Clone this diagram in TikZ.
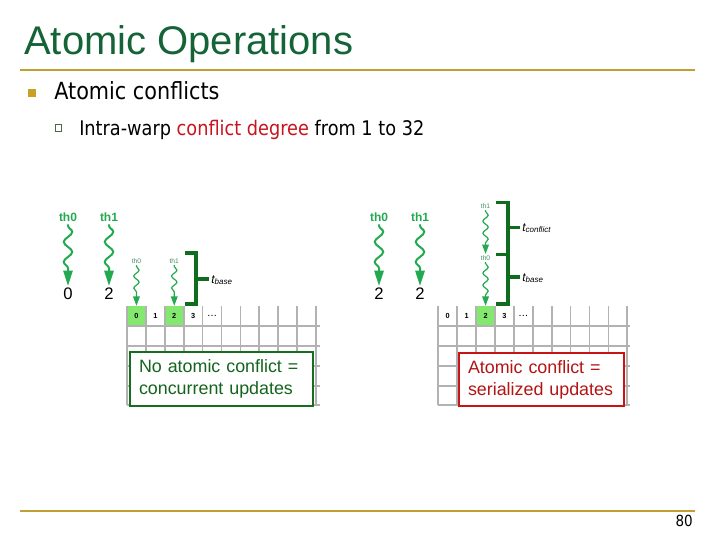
\documentclass[tikz,border=0pt]{standalone}
\usepackage{fontspec}
\setmainfont{Liberation Sans}
\newfontfamily\tahoma[FakeStretch=0.88]{DejaVu Sans}
\usetikzlibrary{arrows.meta,decorations.pathmorphing}
\definecolor{titlegreen}{RGB}{20,100,55}
\definecolor{gold}{RGB}{192,160,52}
\definecolor{bulletgold}{RGB}{200,160,40}
\definecolor{subgray}{RGB}{80,100,70}
\definecolor{thgreen}{RGB}{35,170,80}
\definecolor{smallthc}{RGB}{70,140,100}
\definecolor{brgreen}{RGB}{15,110,30}
\definecolor{boxgreen}{RGB}{20,110,30}
\definecolor{txtgreen}{RGB}{20,100,30}
\definecolor{confred}{RGB}{200,20,30}
\definecolor{boxred}{RGB}{200,20,20}
\definecolor{txtred}{RGB}{180,20,20}
\definecolor{cellgreen}{RGB}{130,232,110}
\definecolor{gridgray}{RGB}{178,178,178}
\tikzset{
  bigwave/.style={draw=thgreen, line width=1.5pt, decorate,
    decoration={snake, amplitude=3.2pt, segment length=15pt, pre length=1pt, post length=12pt},
    -{Triangle[width=7pt,length=11.5pt]}},
  smallwave/.style={draw=thgreen, line width=0.9pt, decorate,
    decoration={snake, amplitude=2pt, segment length=9pt, pre length=1pt, post length=7pt},
    -{Triangle[width=5pt,length=7pt]}},
  bigth/.style={text=thgreen, font=\fontsize{9}{10}\selectfont\bfseries, inner sep=2pt},
  smallth/.style={text=smallthc, font=\fontsize{5}{6}\selectfont, inner sep=1pt},
  num/.style={font=\fontsize{12.5}{14}\selectfont, inner sep=1.5pt},
  cell/.style={minimum width=14.175pt, minimum height=14.925pt, inner sep=0pt, font=\fontsize{5.5}{6}\selectfont\bfseries},
  greencell/.style={cell, fill=cellgreen},
  gridline/.style={draw=gridgray, line width=1.3pt},
  bracket/.style={draw=brgreen, line width=2.5pt},
  lbl/.style={font=\fontsize{9}{10}\selectfont\itshape, inner sep=0pt, anchor=base west},
  msgbox/.style={line width=2.2pt, fill=white, align=left, inner xsep=6.75pt, inner ysep=0pt,
    font=\fontsize{13.4}{16.5}\selectfont},
}
\begin{document}
\begin{tikzpicture}[x=0.75pt,y=-0.75pt]
\useasboundingbox (0,0) rectangle (720,540);
% header
\node[anchor=base west, inner sep=0, text=titlegreen, font=\fontsize{30}{36}\selectfont] (title) at (24,54) {Atomic Operations};
\draw[gold, line width=2.2pt] (20,70) -- (695,70);
\node[fill=bulletgold, minimum size=6pt, inner sep=0] (b1) at (32,93.3) {};
\node[anchor=base west, inner sep=0, font=\tahoma\fontsize{17.7}{20}\selectfont] (t1) at (54,99) {Atomic conflicts};
\node[draw=subgray, line width=0.6pt, minimum size=4.8pt, inner sep=0] (b2) at (58.3,128) {};
\node[anchor=base west, inner sep=0, font=\tahoma\fontsize{15.1}{18}\selectfont] (t2) at (79,135) {Intra-warp \textcolor{confred}{conflict degree} from 1 to 32};
% ---------- left grid ----------
\foreach \k/\t/\s in {0/0/greencell,1/1/cell,2/2/greencell,3/3/cell}
  \node[\s] (lc\k) at ({127+18.9*(\k+0.5)},316) {\t};
\node[cell] (lc4) at ({127+18.9*4.5},316) {.\,.\,.};
\foreach \k in {0,1,2,3,4,5,6,7,8,9,10} \draw[gridline] ({127+18.9*\k},306) -- ({127+18.9*\k},405);
\foreach \y in {326,346,366,386,405} \draw[gridline] (127,\y) -- (320,\y);
% ---------- right grid ----------
\foreach \k/\t/\s in {0/0/cell,1/1/cell,2/2/greencell,3/3/cell}
  \node[\s] (rc\k) at ({438.3+18.9*(\k+0.5)},316) {\t};
\node[cell] (rc4) at ({438.3+18.9*4.5},316) {.\,.\,.};
\foreach \k in {0,1,2,3,4,5,6,7,8,9,10} \draw[gridline] ({438.3+18.9*\k},306) -- ({438.3+18.9*\k},405);
\foreach \y in {326,346,366,386,405} \draw[gridline] (438.3,\y) -- (630,\y);
% ---------- left threads ----------
\node[bigth] (la0) at (68,217) {th0};
\node[bigth] (la1) at (109,217) {th1};
\node[num] (ln0) at (68,294) {0};
\node[num] (ln1) at (109,294) {2};
\draw[bigwave] (la0) -- (ln0);
\draw[bigwave] (la1) -- (ln1);
\node[smallth] (ls0) at (136.45,261) {th0};
\node[smallth] (ls1) at (174.25,261) {th1};
\draw[smallwave] (ls0) -- (lc0);
\draw[smallwave] (ls1) -- (lc2);
\coordinate (lbt) at (185,253);
\coordinate (lbm) at (196,279);
\coordinate (lbb) at (185,304);
\draw[bracket] (lbt) -| (lbm) |- (lbb);
\draw[bracket] (lbm) -- ++(13,0) coordinate (lbe);
\node[lbl] (ltb) at (211,283) {t\textsubscript{base}};
% ---------- right threads ----------
\node[bigth] (ra0) at (379,217) {th0};
\node[bigth] (ra1) at (420,217) {th1};
\node[num] (rn0) at (379,294) {2};
\node[num] (rn1) at (420,294) {2};
\draw[bigwave] (ra0) -- (rn0);
\draw[bigwave] (ra1) -- (rn1);
\node[smallth] (rs1) at (485.55,206) {th1};
\node[smallth] (rs0) at (485.55,258) {th0};
\draw[smallwave] (rs1) -- (rs0);
\draw[smallwave] (rs0) -- (rc2);
\coordinate (rbt) at (496,202.5);
\coordinate (rbm) at (508,254.5);
\coordinate (rbb) at (496,304);
\draw[bracket] (rbt) -| (rbm) |- (rbb);
\draw[bracket] (rbm) -- ++(-12,0) coordinate (rbl);
\draw[bracket] (508,227.5) -- (520,227.5) coordinate (rce);
\draw[bracket] (508,277) -- (520,277) coordinate (rbe);
\node[lbl] (rtc) at (522,231) {t\textsubscript{conflict}};
\node[lbl] (rtb) at (522,281) {t\textsubscript{base}};
% ---------- boxes ----------
\node[msgbox, draw=boxgreen, text=txtgreen, text width=123.75pt, minimum height=40.5pt] (lbox) at (221.5,379) {No atomic conflict =\\concurrent updates};
\node[msgbox, draw=boxred, text=txtred, text width=110.25pt, minimum height=39.75pt] (rbox) at (541.5,379.5) {Atomic conflict =\\serialized updates};
% footer
\draw[gold, line width=2.2pt] (20,511) -- (695,511);
\node[anchor=base east, inner sep=0, font=\tahoma\fontsize{11.5}{13}\selectfont] (pg) at (693,526) {80};
\end{tikzpicture}
\end{document}
